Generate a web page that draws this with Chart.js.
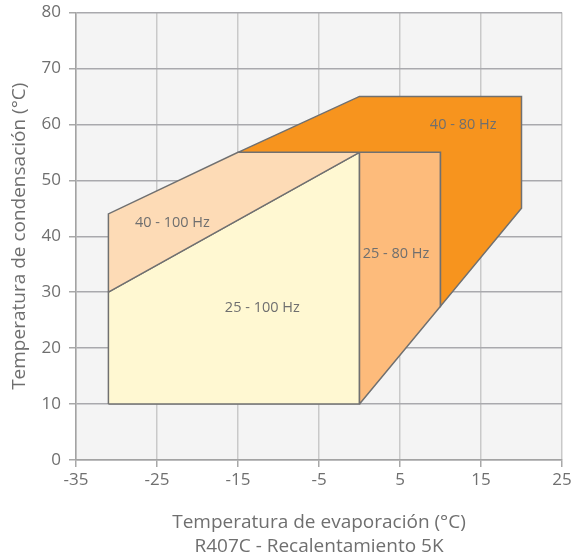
<!DOCTYPE html>
<html>
<head>
<meta charset="utf-8">
<script src="https://cdn.jsdelivr.net/npm/chart.js@4/dist/chart.umd.min.js"></script>
<style>
html,body{margin:0;padding:0;background:#fff;}
#wrap{width:576px;height:559px;position:relative;}
</style>
</head>
<body>
<div id="wrap"><canvas id="c" width="576" height="559"></canvas></div>
<script>
// ---- data (°C) ----
const xTicks = [-35, -25, -15, -5, 5, 15, 25];
const yTicks = [0, 10, 20, 30, 40, 50, 60, 70, 80];

const region4080X = [-15, 0, 20, 20, 10, 10, -15];
const region4080Y = [55, 65, 65, 45, 27.5, 55, 55];

const region2580X = [0, 0, 10, 10, 0];
const region2580Y = [10, 55, 55, 27.5, 10];

const region40100X = [-31, -31, -15, 0, -31];
const region40100Y = [30, 44, 55, 55, 30];

const region25100X = [-31, -31, 0, 0, -31];
const region25100Y = [10, 30, 55, 10, 10];

const regionNames = ['40 - 80 Hz', '25 - 80 Hz', '40 - 100 Hz', '25 - 100 Hz'];
const labelX = [12.8, 4.5, -23.1, -12.0];
const labelY = [60.0, 36.9, 42.4, 27.2];

const xTitle = ['Temperatura de evaporación (°C)', 'R407C - Recalentamiento 5K'];
const yTitle = 'Temperatura de condensación (°C)';

function pts(xs, ys){ return xs.map((x,i)=>({x:x, y:ys[i]})); }

const colors = ['#F7941E', '#FDBB7B', '#FDDBB6', '#FFF8D2'];
const series = [
  pts(region4080X, region4080Y),
  pts(region2580X, region2580Y),
  pts(region40100X, region40100Y),
  pts(region25100X, region25100Y)
];

const FONT = "'Open Sans', 'Noto Sans', sans-serif";
const TXT = '#6f6f6f';

const bgPlugin = {
  id: 'bg',
  beforeDraw(chart){
    const {ctx, chartArea:a} = chart;
    ctx.save();
    ctx.fillStyle = '#f4f4f4';
    ctx.fillRect(a.left, a.top, a.right - a.left, a.bottom - a.top);
    ctx.restore();
  }
};

const labelPlugin = {
  id: 'regionLabels',
  afterDatasetsDraw(chart){
    const ctx = chart.ctx;
    const xs = chart.scales.x, ys = chart.scales.y;
    ctx.save();
    ctx.font = "14.5px " + FONT;
    ctx.fillStyle = TXT;
    ctx.textAlign = 'center';
    ctx.textBaseline = 'middle';
    regionNames.forEach((n,i)=>{
      ctx.fillText(n, xs.getPixelForValue(labelX[i]), ys.getPixelForValue(labelY[i]));
    });
    ctx.restore();
  }
};

new Chart(document.getElementById('c'), {
  type: 'scatter',
  data: {
    datasets: series.map((d,i)=>({
      label: regionNames[i],
      data: d,
      showLine: true,
      fill: 'shape',
      backgroundColor: colors[i],
      borderColor: '#707070',
      borderWidth: 1.5,
      tension: 0,
      pointRadius: 0,
      pointHoverRadius: 0,
      order: i
    }))
  },
  options: {
    responsive: false,
    animation: false,
    events: [],
    layout: { padding: { left: 0, right: 14, top: 12.5, bottom: 0 } },
    plugins: { legend: { display: false }, tooltip: { enabled: false } },
    scales: {
      x: {
        type: 'linear',
        min: xTicks[0], max: xTicks[xTicks.length-1],
        afterBuildTicks(s){ s.ticks = xTicks.map(v=>({value:v})); },
        afterFit(s){ s.height = 99; },
        grid: { color: '#c9c9c9', lineWidth: 1.5, tickLength: 7, tickColor: '#a8a8a8' },
        border: { color: '#a3a3a3', width: 1.5 },
        ticks: { color: TXT, font: { family: FONT, size: 17 }, padding: 3, maxRotation: 0 },
        title: { display: true, text: xTitle, color: TXT, font: { family: FONT, size: 19, lineHeight: 1.26 }, padding: { top: 0, bottom: 0 } }
      },
      y: {
        type: 'linear',
        min: yTicks[0], max: yTicks[yTicks.length-1],
        afterBuildTicks(s){ s.ticks = yTicks.map(v=>({value:v})); },
        afterFit(s){ s.width = 76; s.paddingTop = 0; s.paddingBottom = 0; },
        grid: { color: '#a9a9ad', lineWidth: 1.5, tickLength: 7, tickColor: '#a8a8a8' },
        border: { color: '#a3a3a3', width: 1.5 },
        ticks: { color: TXT, font: { family: FONT, size: 17 }, padding: 8 },
        title: { display: true, text: yTitle, color: TXT, font: { family: FONT, size: 19 }, padding: { top: 8, bottom: 0 } }
      }
    }
  },
  plugins: [bgPlugin, labelPlugin]
});
</script>
</body>
</html>
